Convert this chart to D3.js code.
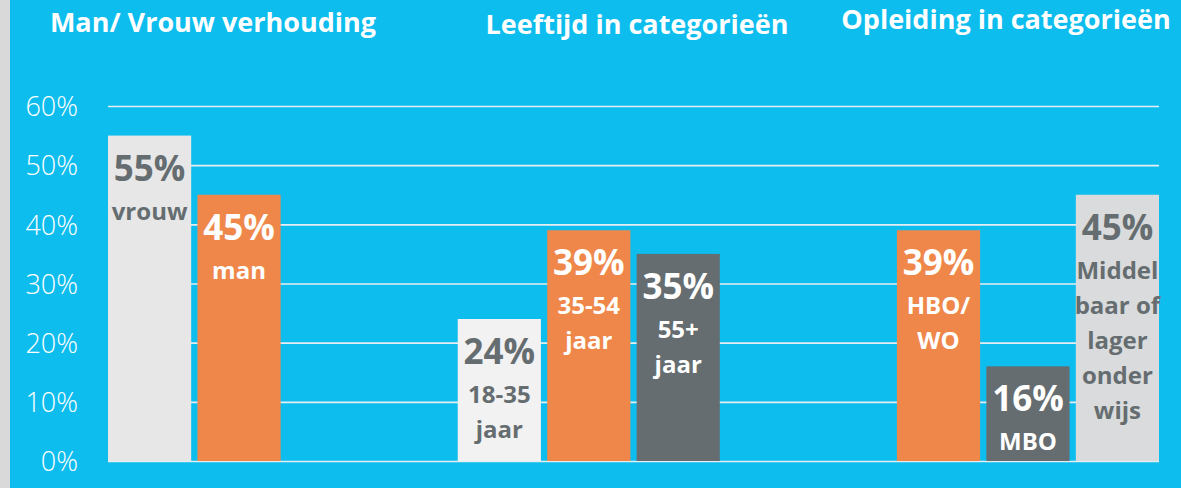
<!DOCTYPE html>
<html>
  <head>
    <meta charset="UTF-8" />
    <title>Profiel respondenten</title>
    <style>
      html, body { margin: 0; padding: 0; background: #0DBDEE; }
      svg { display: block; font-family: "Open Sans", "Liberation Sans", sans-serif; }
    </style>
  </head>
  <body>
    <div id="chart"></div>
    <script src="https://cdnjs.cloudflare.com/ajax/libs/d3/7.8.5/d3.min.js"></script>
    <script>
// chart data
const groupTitles = ['Man/ Vrouw verhouding', 'Leeftijd in categorieën', 'Opleiding in categorieën'];
const barGroup = [0, 0, 1, 1, 1, 2, 2, 2];
const values = [55, 45, 24, 39, 35, 39, 16, 45];
const barLabels = [
  ['vrouw'],
  ['man'],
  ['18-35', 'jaar'],
  ['35-54', 'jaar'],
  ['55+', 'jaar'],
  ['HBO/', 'WO'],
  ['MBO'],
  ['Middel', 'baar of', 'lager', 'onder', 'wijs']
];
const yTicks = [0, 10, 20, 30, 40, 50, 60];

// styling / layout
const W = 1181, H = 488;
const barFill = ['#E7E7E7', '#F0874A', '#F2F2F2', '#F0874A', '#656D70', '#F0874A', '#656D70', '#D9DBDC'];
const textFill = ['#656D70', '#FFFFFF', '#656D70', '#FFFFFF', '#FFFFFF', '#FFFFFF', '#FFFFFF', '#656D70'];
const groupOffset = [0, 3.91, 8.82];
const titleX = [213, 637, 1006];
const titleY = [32, 34, 29];

const svg = d3.select('#chart').append('svg')
    .attr('width', W)
    .attr('height', H);

svg.append('rect').attr('width', W).attr('height', H).attr('fill', '#0DBDEE');
svg.append('rect').attr('width', 10).attr('height', H).attr('fill', '#D9D9D9');

const x = d3.scaleLinear().domain([0, 11.75]).range([108, 1159]);
const y = d3.scaleLinear().domain([0, 60]).range([461, 106]);
const bw = x(0.93) - x(0);

// slot of each bar = group offset + position inside its group
const slots = barGroup.map((g, i) => groupOffset[g] + barGroup.slice(0, i).filter(d => d === g).length);

// gridlines
const grid = svg.append('g')
    .attr('transform', `translate(${x(0)},0)`)
    .call(d3.axisRight(y).tickValues(yTicks).tickSize(x(11.75) - x(0)).tickFormat(''));
grid.select('.domain').remove();
grid.selectAll('line').attr('stroke', '#E6EEF1').attr('stroke-width', 1.6);

// y axis labels
const yAxis = svg.append('g')
    .attr('transform', 'translate(81,0)')
    .call(d3.axisLeft(y).tickValues(yTicks).tickSize(0).tickFormat(d => d + '%'));
yAxis.select('.domain').remove();
yAxis.selectAll('text')
    .attr('fill', '#FFFFFF')
    .attr('font-size', 27)
    .attr('font-weight', 300)
    .attr('font-family', '"Open Sans", sans-serif')
    .attr('dy', '0.36em');

// titles
svg.selectAll('.title')
  .data(groupTitles)
  .enter()
  .append('text')
    .attr('class', 'title')
    .attr('x', (d, i) => titleX[i])
    .attr('y', (d, i) => titleY[i])
    .attr('text-anchor', 'middle')
    .attr('fill', '#FFFFFF')
    .attr('font-size', 27)
    .attr('font-weight', 700)
    .text(d => d);

// bars
const bars = svg.append('g')
  .selectAll('.bar')
  .data(values)
  .enter()
  .append('g')
    .attr('class', 'bar');

bars.append('rect')
    .attr('x', (d, i) => x(slots[i]))
    .attr('y', d => y(d))
    .attr('width', bw)
    .attr('height', d => y(0) - y(d))
    .attr('fill', (d, i) => barFill[i]);

bars.append('text')
    .attr('x', (d, i) => x(slots[i]) + bw / 2)
    .attr('y', d => y(d) + 45)
    .attr('text-anchor', 'middle')
    .attr('font-size', 35)
    .attr('font-weight', 700)
    .attr('fill', (d, i) => textFill[i])
    .text(d => d + '%');

bars.each(function(d, i) {
  const g = d3.select(this);
  barLabels[i].forEach((line, j) => {
    g.append('text')
      .attr('x', x(slots[i]) + bw / 2)
      .attr('y', y(d) + 45 + 39 + j * 35)
      .attr('text-anchor', 'middle')
      .attr('font-size', 24)
      .attr('font-weight', 700)
      .attr('fill', textFill[i])
      .text(line);
  });
});
    </script>
  </body>
</html>
